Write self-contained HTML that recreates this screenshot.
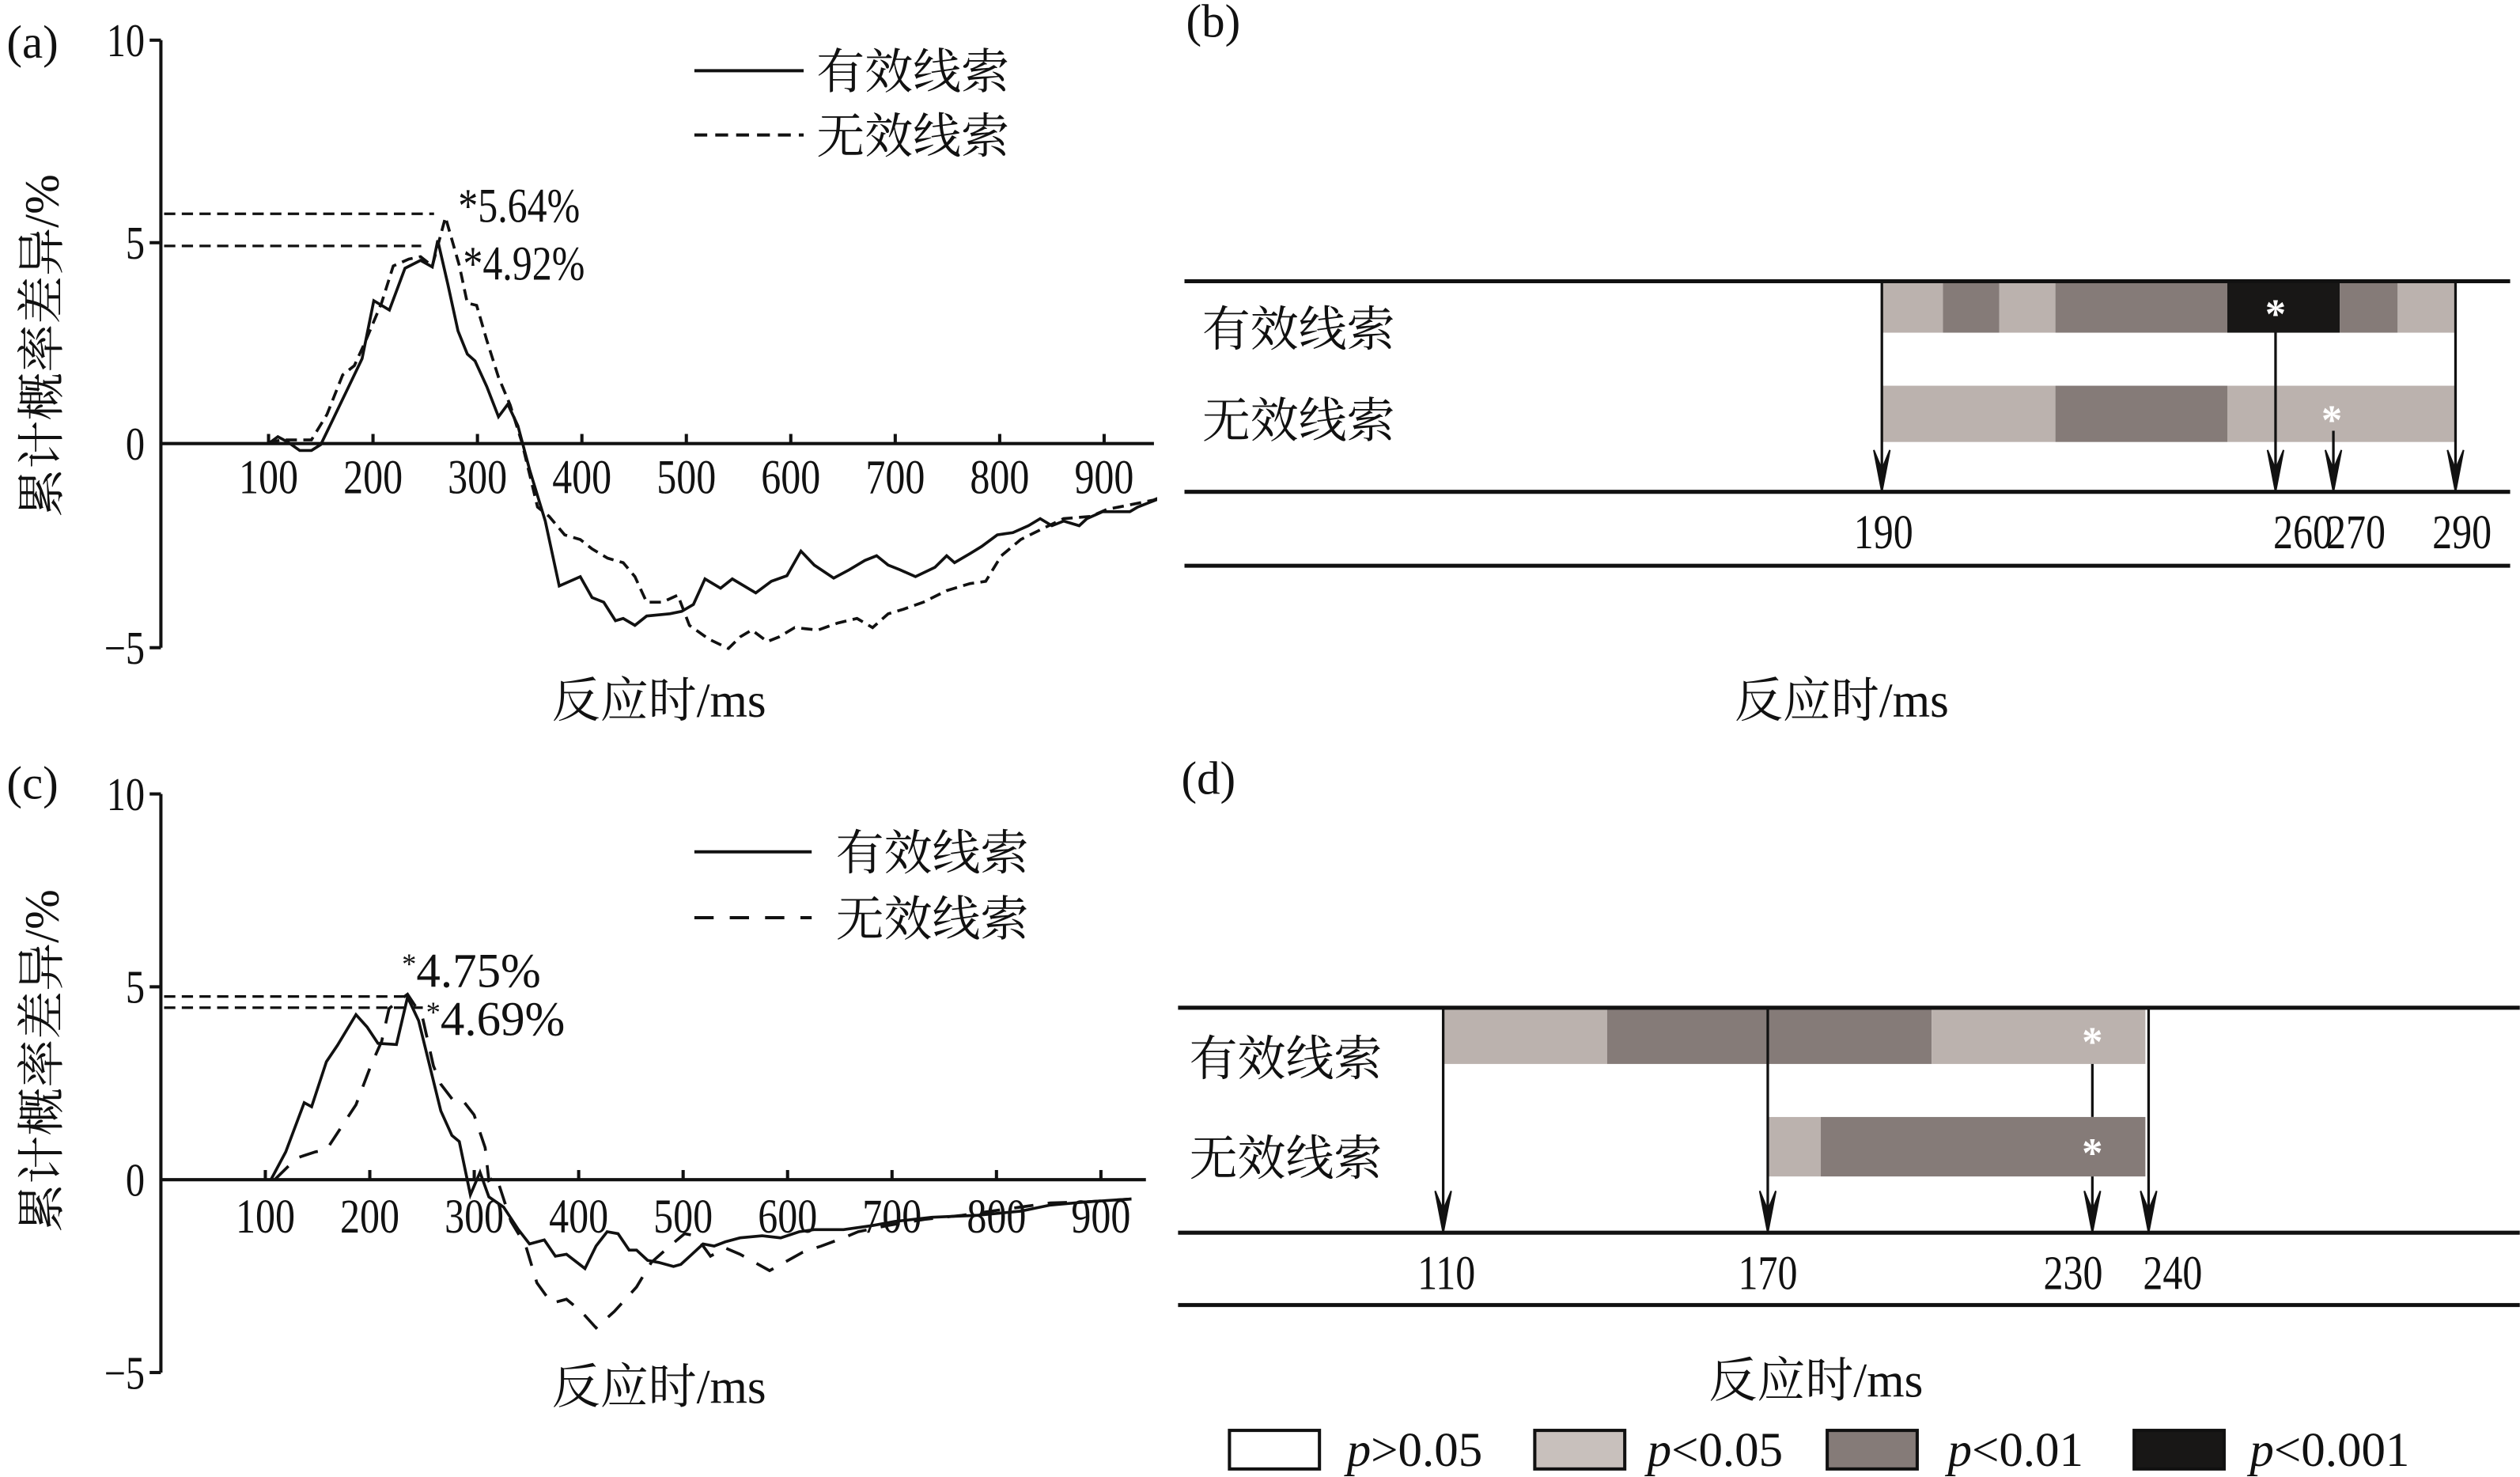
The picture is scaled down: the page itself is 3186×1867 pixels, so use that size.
<!DOCTYPE html>
<html><head><meta charset="utf-8"><style>
html,body{margin:0;padding:0;background:#fff;}
svg{display:block;}
text{font-family:"Liberation Serif","Noto Serif CJK SC","Noto Sans CJK SC",serif;fill:#111;}
</style></head><body>
<svg id="s" width="3186" height="1867" viewBox="0 0 1568 919" xmlns="http://www.w3.org/2000/svg">
<defs>
<clipPath id="ca"><rect x="100" y="0" width="620" height="450"/></clipPath>
<clipPath id="cc"><rect x="100" y="450" width="615" height="450"/></clipPath>
</defs>
<g stroke="#111" stroke-width="2" fill="none">
<line x1="100" y1="25" x2="100" y2="403"/>
<line x1="93" y1="25" x2="100" y2="25"/><line x1="93" y1="151" x2="100" y2="151"/><line x1="93" y1="403" x2="100" y2="403"/>
<line x1="100" y1="276" x2="718" y2="276"/>
<line x1="100" y1="494" x2="100" y2="854"/>
<line x1="93" y1="494" x2="100" y2="494"/><line x1="93" y1="614" x2="100" y2="614"/><line x1="93" y1="854" x2="100" y2="854"/>
<line x1="100" y1="734" x2="713" y2="734"/>
<line x1="432" y1="44" x2="500" y2="44"/>
<line x1="432" y1="84" x2="500" y2="84" stroke-dasharray="8,5"/>
<line x1="432" y1="530" x2="505" y2="530"/>
<line x1="432" y1="571" x2="505" y2="571" stroke-dasharray="12,10"/>
<line x1="102" y1="133" x2="270" y2="133" stroke-dasharray="7,4" stroke-width="1.6"/>
<line x1="102" y1="153" x2="262" y2="153" stroke-dasharray="7,4" stroke-width="1.6"/>
<line x1="102" y1="620" x2="255" y2="620" stroke-dasharray="7,4" stroke-width="1.6"/>
<line x1="102" y1="627" x2="265" y2="627" stroke-dasharray="7,4" stroke-width="1.6"/>
</g>
<g id="ticks" stroke="#111" stroke-width="2"></g>
<g id="curvesA" fill="none" stroke="#111" stroke-width="1.8" clip-path="url(#ca)"></g>
<g id="curvesC" fill="none" stroke="#111" stroke-width="1.8" clip-path="url(#cc)"></g>

<g font-size="29">
<text x="4" y="36">(a)</text>
<text class="c" x="90" y="35" text-anchor="end">10</text>
<text class="c" x="90" y="161" text-anchor="end">5</text>
<text class="c" x="90" y="286" text-anchor="end">0</text>
<text class="c" x="90" y="413" text-anchor="end">−5</text>
<text x="4" y="497">(c)</text>
<text class="c" x="90" y="504" text-anchor="end">10</text>
<text class="c" x="90" y="624" text-anchor="end">5</text>
<text class="c" x="90" y="744" text-anchor="end">0</text>
<text class="c" x="90" y="864" text-anchor="end">−5</text>
<text x="738" y="23">(b)</text>
<text x="735" y="494">(d)</text>
</g>
<g font-size="30" text-anchor="middle" id="xlabels"></g>
<g font-size="30">
<text x="508" y="55">有效线索</text>
<text x="508" y="95">无效线索</text>
<text x="520" y="541">有效线索</text>
<text x="520" y="582">无效线索</text>
<text class="c" x="285" y="138">*5.64%</text>
<text class="c" x="288" y="174">*4.92%</text>
<text x="250" y="614"><tspan font-size="18" dy="-8">*</tspan><tspan dy="8">4.75%</tspan></text>
<text x="265" y="644"><tspan font-size="18" dy="-8">*</tspan><tspan dy="8">4.69%</tspan></text>
<text x="410" y="446" text-anchor="middle">反应时/ms</text>
<text x="410" y="873" text-anchor="middle">反应时/ms</text>
<text x="1146" y="446" text-anchor="middle">反应时/ms</text>
<text x="1130" y="869" text-anchor="middle">反应时/ms</text>
<text transform="translate(36,215) rotate(-90)" text-anchor="middle">累计概率差异/%</text>
<text transform="translate(36,660) rotate(-90)" text-anchor="middle">累计概率差异/%</text>
<text x="748" y="215">有效线索</text>
<text x="748" y="272">无效线索</text>
<text x="740" y="669">有效线索</text>
<text x="740" y="731">无效线索</text>
<text class="c" x="1172" y="341" text-anchor="middle">190</text>
<text class="c" x="1433" y="341" text-anchor="middle">260</text>
<text class="c" x="1466" y="341" text-anchor="middle">270</text>
<text class="c" x="1532" y="341" text-anchor="middle">290</text>
<text class="c" x="900" y="802" text-anchor="middle">110</text>
<text class="c" x="1100" y="802" text-anchor="middle">170</text>
<text class="c" x="1290" y="802" text-anchor="middle">230</text>
<text class="c" x="1352" y="802" text-anchor="middle">240</text>
<text x="838" y="912"><tspan font-style="italic">p</tspan>&gt;0.05</text>
<text x="1025" y="912"><tspan font-style="italic">p</tspan>&lt;0.05</text>
<text x="1212" y="912"><tspan font-style="italic">p</tspan>&lt;0.01</text>
<text x="1400" y="912"><tspan font-style="italic">p</tspan>&lt;0.001</text>
</g>

<g stroke="none">
<rect x="1171" y="176" width="38" height="31" fill="#bbb2ae"/>
<rect x="1209" y="176" width="35" height="31" fill="#857b78"/>
<rect x="1244" y="176" width="35" height="31" fill="#bbb2ae"/>
<rect x="1279" y="176" width="107" height="31" fill="#857b78"/>
<rect x="1386" y="176" width="70" height="31" fill="#181716"/>
<rect x="1456" y="176" width="36" height="31" fill="#857b78"/>
<rect x="1492" y="176" width="36" height="31" fill="#bbb2ae"/>
<rect x="1171" y="240" width="108" height="35" fill="#bbb2ae"/>
<rect x="1279" y="240" width="107" height="35" fill="#857b78"/>
<rect x="1386" y="240" width="142" height="35" fill="#bbb2ae"/>
<rect x="898" y="627" width="102" height="35" fill="#bbb2ae"/>
<rect x="1000" y="627" width="202" height="35" fill="#857b78"/>
<rect x="1202" y="627" width="133" height="35" fill="#bbb2ae"/>
<rect x="1100" y="695" width="33" height="37" fill="#bbb2ae"/>
<rect x="1133" y="695" width="202" height="37" fill="#857b78"/>
<rect x="765" y="890" width="56" height="24" fill="#fff" stroke="#111" stroke-width="2"/>
<rect x="955" y="890" width="56" height="24" fill="#c8c0bc" stroke="#111" stroke-width="2"/>
<rect x="1137" y="890" width="56" height="24" fill="#857b78" stroke="#111" stroke-width="2"/>
<rect x="1328" y="890" width="56" height="24" fill="#181716" stroke="#111" stroke-width="2"/>
</g>
<g font-size="26" font-weight="bold" text-anchor="middle">
<text x="1416" y="204" style="fill:#fff">*</text>
<text x="1451" y="270" style="fill:#fff">*</text>
<text x="1302" y="657" style="fill:#fff">*</text>
<text x="1302" y="726" style="fill:#fff">*</text>
</g>
<g stroke="#111" stroke-width="2.5">
<line x1="737" y1="175" x2="1562" y2="175"/>
<line x1="737" y1="306" x2="1562" y2="306"/>
<line x1="737" y1="352" x2="1562" y2="352"/>
<line x1="733" y1="627" x2="1568" y2="627"/>
<line x1="733" y1="767" x2="1568" y2="767"/>
<line x1="733" y1="812" x2="1568" y2="812"/>
</g>
<g id="arrows" stroke="#111" stroke-width="1.6" fill="#111"></g>
</svg>
<script>
var NS="http://www.w3.org/2000/svg";
function el(p,t,a){var e=document.createElementNS(NS,t);for(var k in a)e.setAttribute(k,a[k]);p.appendChild(e);return e;}
var ticks=document.getElementById('ticks'),xl=document.getElementById('xlabels');
for(var i=1;i<=9;i++){
 var xa=102+0.65*i*100; el(ticks,'line',{x1:xa,y1:270,x2:xa,y2:276});
 var t=el(xl,'text',{x:xa,y:307,'class':'c'});t.textContent=i*100;
 var xc=100+0.65*i*100; el(ticks,'line',{x1:xc,y1:728,x2:xc,y2:734});
 var t2=el(xl,'text',{x:xc,y:767,'class':'c'});t2.textContent=i*100;
}
function path(g,pts,f,dash){var d='';for(var i=0;i<pts.length;i+=2){var q=f(pts[i],pts[i+1]);d+=(i?'L':'M')+q[0].toFixed(1)+' '+q[1].toFixed(1);}var a={d:d};if(dash)a['stroke-dasharray']=dash;el(document.getElementById(g),'path',a);}
function fa(zx,zy){var x=(zx-211)/1.34,y=(943-zy)/87;return[102+0.65*x,276-25.1*y];}
function fc(zx,zy){var x=(zx-216)/1.414,y=(1038-zy)/94.2;return[100+0.65*x,734-24*y];}
var aS=[211,943,345,943,357,928,370,940,385,958,400,958,412,945,425,900,445,830,465,760,480,635,500,655,520,565,540,548,555,562,562,505,575,600,588,700,600,750,610,765,625,820,640,885,652,858,665,905,680,1000,700,1110,718,1250,745,1230,760,1275,775,1285,790,1325,800,1320,815,1335,830,1315,860,1310,875,1305,890,1290,905,1235,925,1255,940,1235,970,1265,990,1240,1010,1228,1028,1175,1045,1205,1070,1233,1090,1215,1110,1195,1125,1185,1140,1205,1155,1215,1175,1230,1200,1210,1215,1185,1225,1200,1245,1180,1260,1165,1280,1140,1300,1135,1320,1120,1335,1105,1350,1120,1365,1110,1385,1120,1395,1105,1415,1090,1430,1090,1450,1090,1460,1080,1490,1060,1510,1040,1520,1040];
var aD=[345,943,360,935,380,935,400,935,420,880,440,795,455,775,470,720,490,640,505,560,525,545,540,540,555,560,572,455,590,560,600,640,612,645,625,720,640,800,655,860,670,940,690,1080,705,1100,725,1140,745,1150,760,1170,780,1190,800,1200,815,1230,830,1285,850,1285,870,1270,885,1335,910,1365,935,1385,950,1360,965,1345,985,1370,1000,1360,1020,1340,1050,1345,1075,1330,1100,1320,1120,1340,1140,1310,1160,1300,1185,1285,1215,1260,1245,1245,1265,1240,1285,1185,1310,1150,1340,1125,1365,1105,1400,1100,1420,1085,1450,1075,1480,1065,1510,1045];
var cS=[365,1038,385,970,410,850,420,860,440,750,455,710,480,635,495,665,510,705,535,708,550,592,565,650,580,760,595,870,610,930,620,945,635,1075,648,1020,660,1080,680,1105,700,1160,715,1195,735,1185,750,1225,765,1220,790,1255,805,1200,820,1165,835,1170,850,1210,860,1210,875,1235,890,1240,910,1250,920,1245,935,1220,950,1195,965,1200,980,1190,1000,1180,1030,1175,1055,1180,1080,1165,1100,1160,1140,1160,1180,1150,1210,1140,1260,1130,1320,1125,1380,1115,1420,1100,1470,1092,1530,1085];
var cD=[370,1038,400,985,425,970,440,965,460,910,480,855,500,760,515,700,525,620,550,585,570,640,585,760,595,805,612,845,625,845,640,880,655,960,660,1040,670,1030,690,1140,710,1200,725,1290,745,1340,765,1330,785,1360,805,1400,830,1360,860,1300,880,1240,905,1200,925,1170,940,1175,960,1225,980,1205,1000,1220,1020,1240,1040,1260,1060,1240,1085,1215,1110,1200,1140,1180,1160,1165,1200,1150,1250,1135,1300,1125,1360,1110,1420,1095,1470,1092,1530,1085];
path('curvesA',aS,fa);path('curvesA',aD,fa,'7,4');path('curvesC',cS,fc);path('curvesC',cD,fc,'12,9');
var ar=document.getElementById('arrows');
function arrow(x,y1,y2){el(ar,'line',{x1:x,y1:y1,x2:x,y2:y2-6});el(ar,'path',{d:'M'+(x-5)+' '+(y2-26)+'L'+x+' '+(y2-14)+'L'+(x+5)+' '+(y2-26)+'L'+x+' '+y2+'Z','stroke-width':1});}
arrow(1171,176,306);arrow(1416,207,306);arrow(1452,268,306);arrow(1528,176,306);
arrow(898,627,767);arrow(1100,627,767);arrow(1337,627,767);
el(ar,'line',{x1:1302,y1:662,x2:1302,y2:695});arrow(1302,732,767);
var cs=document.querySelectorAll('text.c');
for(var j=0;j<cs.length;j++){var L=cs[j].getComputedTextLength();cs[j].setAttribute('textLength',(L*0.82).toFixed(1));cs[j].setAttribute('lengthAdjust','spacingAndGlyphs');}
</script>
</body></html>
